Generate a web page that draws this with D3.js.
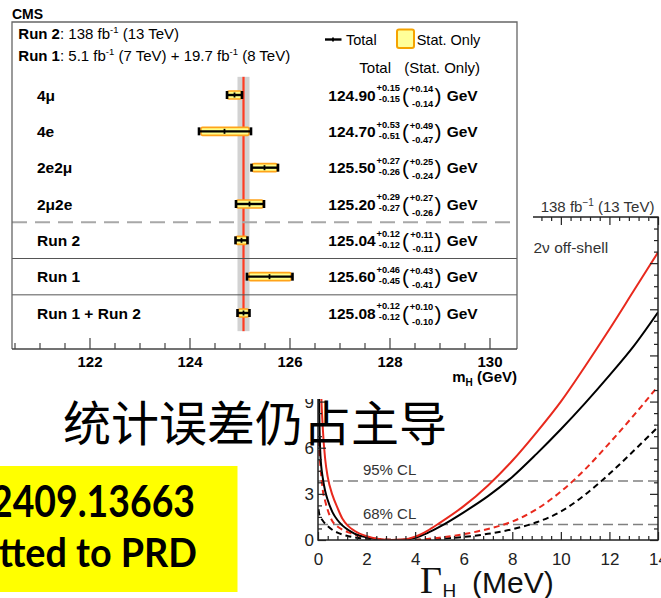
<!DOCTYPE html>
<html><head><meta charset="utf-8">
<script src="https://cdn.jsdelivr.net/npm/d3@7"></script>
<style>body{margin:0;background:#fff}svg{display:block}</style>
</head><body>
<svg id="c" width="661" height="598"></svg>
<script>
// ---------- Data: Higgs boson mass measurements (left panel) ----------
const categories = ["4μ", "4e", "2e2μ", "2μ2e", "Run 2", "Run 1", "Run 1 + Run 2"];
const massValues = [124.90, 124.70, 125.50, 125.20, 125.04, 125.60, 125.08];
const totalUp    = [0.15, 0.53, 0.27, 0.29, 0.12, 0.46, 0.12];
const totalDown  = [0.15, 0.51, 0.26, 0.27, 0.12, 0.45, 0.12];
const statUp     = [0.14, 0.49, 0.25, 0.27, 0.11, 0.43, 0.10];
const statDown   = [0.14, 0.47, 0.24, 0.26, 0.11, 0.41, 0.10];
const combinedMass = 125.08;
const combinedErr = 0.12;
const massTicks = [122, 124, 126, 128, 130];

// ---------- Data: Higgs width likelihood scan (right panel) ----------
const widthGrid   = [0.02, 0.05, 0.1, 0.2, 0.3, 0.4, 0.6, 0.8, 1.0, 1.25, 1.5, 2.0, 2.5, 3.0, 3.5, 4.0, 4.5, 5.0, 6.0, 7.0, 8.0, 9.0, 10.0, 11.0, 12.0, 13.0, 14.0];
const redSolid    = [24, 17, 11.5, 7.2, 5.2, 4.1, 2.9, 2.1, 1.4, 0.9, 0.6, 0.25, 0.07, 0.0, 0.03, 0.22, 0.6, 1.1, 2.2, 3.55, 5.15, 7.0, 9.0, 11.3, 13.7, 16.2, 18.7];
const blackSolid  = [14, 8.5, 5.5, 4.0, 3.15, 2.6, 1.8, 1.3, 0.95, 0.65, 0.42, 0.17, 0.04, 0.0, 0.02, 0.15, 0.45, 0.85, 1.8, 2.85, 4.1, 5.6, 7.2, 8.9, 10.7, 12.6, 14.8];
const redDashed   = [6.5, 5.8, 4.8, 3.2, 2.5, 1.95, 1.2, 0.88, 0.68, 0.5, 0.36, 0.18, 0.07, 0.02, 0.0, 0.02, 0.07, 0.15, 0.38, 0.72, 1.2, 2.0, 3.15, 4.6, 6.3, 8.1, 10.0];
const blackDashed = [2.0, 1.7, 1.5, 1.25, 1.05, 0.9, 0.65, 0.48, 0.36, 0.25, 0.17, 0.08, 0.03, 0.01, 0.0, 0.01, 0.04, 0.08, 0.2, 0.4, 0.7, 1.15, 1.85, 2.95, 4.3, 5.8, 7.35];
const widthTicks = [0, 2, 4, 6, 8, 10, 12, 14];
const nllTicks = [0, 3, 6, 9, 12, 15, 18, 21];
const clLevels = [1, 3.84];
const clLabels = ["68% CL", "95% CL"];

const SANS = "'Liberation Sans', Arial, Helvetica, sans-serif";
const svg = d3.select("#c");

function txt(p, x, y, s, o = {}) {
  const t = p.append("text").attr("x", x).attr("y", y)
    .attr("font-family", o.family || SANS)
    .attr("font-size", o.size || 15)
    .attr("font-weight", o.weight || "normal")
    .attr("fill", o.fill || "#000")
    .attr("text-anchor", o.anchor || "start");
  if (s !== null) t.text(s);
  if (o.len) t.attr("textLength", o.len).attr("lengthAdjust", "spacingAndGlyphs");
  return t;
}

// ================= Right panel: width scan =================
const xw = d3.scaleLinear().domain([0, 14]).range([318, 658]);
const yw = d3.scaleLinear().domain([0, 21]).range([540, 217]);
const gR = svg.append("g");
gR.append("clipPath").attr("id", "clipR").append("rect")
  .attr("x", xw(0)).attr("y", yw(21)).attr("width", xw(14) - xw(0)).attr("height", yw(0) - yw(21));

clLevels.forEach((lv, i) => {
  gR.append("line").attr("x1", xw(0)).attr("x2", xw(14)).attr("y1", yw(lv)).attr("y2", yw(lv))
    .attr("stroke", "#808080").attr("stroke-width", 1.5).attr("stroke-dasharray", "10,5");
  txt(gR, xw(1.85), yw(lv) - 5.5, clLabels[i], {size: 15, fill: "#333"});
});

const line = d3.line().x((d, i) => xw(widthGrid[i])).y(d => yw(d)).curve(d3.curveMonotoneX);
const curves = [
  {v: blackDashed, c: "#000", dash: "6,4"},
  {v: redDashed, c: "#e8291d", dash: "6,4"},
  {v: blackSolid, c: "#000", dash: null},
  {v: redSolid, c: "#e8291d", dash: null}
];
const gC = gR.append("g").attr("clip-path", "url(#clipR)");
curves.forEach(cv => {
  gC.append("path").attr("d", line(cv.v)).attr("fill", "none")
    .attr("stroke", cv.c).attr("stroke-width", 2)
    .attr("stroke-dasharray", cv.dash);
});

const wMinor = d3.range(0, 36).map(i => +(i * 0.4).toFixed(2)).filter(v => Math.abs(v / 2 - Math.round(v / 2)) > 1e-6);
const nMinor = d3.range(0, 29).map(i => i * 0.75).filter(v => Math.abs(v / 3 - Math.round(v / 3)) > 1e-6);
function styleAxis(g, fs) {
  g.select(".domain").remove();
  g.selectAll("line").attr("stroke", "#222").attr("stroke-width", 1.2);
  g.selectAll("text").attr("font-family", SANS).attr("font-size", fs).attr("fill", "#222");
}
gR.append("g").attr("transform", `translate(0,${yw(0)})`)
  .call(d3.axisBottom(xw).tickValues(widthTicks).tickSize(-8).tickPadding(13).tickFormat(d3.format("d")))
  .call(g => styleAxis(g, 17));
gR.append("g").attr("transform", `translate(0,${yw(0)})`)
  .call(d3.axisBottom(xw).tickValues(wMinor).tickSize(-4).tickFormat(""))
  .call(g => styleAxis(g, 17));
gR.append("g").attr("transform", `translate(0,${yw(21)})`)
  .call(d3.axisTop(xw).tickValues(widthTicks).tickSize(-8).tickFormat(""))
  .call(g => styleAxis(g, 17));
gR.append("g").attr("transform", `translate(0,${yw(21)})`)
  .call(d3.axisTop(xw).tickValues(wMinor).tickSize(-4).tickFormat(""))
  .call(g => styleAxis(g, 17));
gR.append("g").attr("transform", `translate(${xw(0)},0)`)
  .call(d3.axisLeft(yw).tickValues(nllTicks).tickSize(-8).tickPadding(4).tickFormat(d3.format("d")))
  .call(g => styleAxis(g, 17));
gR.append("g").attr("transform", `translate(${xw(0)},0)`)
  .call(d3.axisLeft(yw).tickValues(nMinor).tickSize(-4).tickFormat(""))
  .call(g => styleAxis(g, 17));
gR.append("g").attr("transform", `translate(${xw(14)},0)`)
  .call(d3.axisRight(yw).tickValues(nllTicks).tickSize(-8).tickFormat(""))
  .call(g => styleAxis(g, 17));
gR.append("g").attr("transform", `translate(${xw(14)},0)`)
  .call(d3.axisRight(yw).tickValues(nMinor).tickSize(-4).tickFormat(""))
  .call(g => styleAxis(g, 17));
gR.append("rect").attr("x", xw(0)).attr("y", yw(21)).attr("width", xw(14) - xw(0)).attr("height", yw(0) - yw(21))
  .attr("fill", "none").attr("stroke", "#222").attr("stroke-width", 1.5);

const lumi = txt(gR, 540.7, 211.7, null, {size: 15, fill: "#333"});
lumi.append("tspan").text("138 fb");
lumi.append("tspan").attr("dy", -6).attr("font-size", 10).text("−1");
lumi.append("tspan").attr("dy", 6).text(" (13 TeV)");
txt(gR, 533.5, 253.3, "2ν off-shell", {size: 15.5, fill: "#333"});
txt(gR, 420, 593, "Γ", {family: "'Liberation Serif', 'Times New Roman', serif", size: 38, fill: "#111"});
txt(gR, 442.5, 597, "H", {size: 19, fill: "#111"});
txt(gR, 472, 593, "(MeV)", {size: 30, fill: "#111"});

// ================= Cover (background of left figure) =================
svg.append("rect").attr("x", 0).attr("y", 0).attr("width", 533).attr("height", 399).attr("fill", "#fff");

// ================= Left panel: mass =================
const xm = d3.scaleLinear().domain([120.45, 130.55]).range([12, 517]);
const ym = d3.scalePoint().domain(categories).range([95, 313]);
const step = ym.step();
const gL = svg.append("g");
const yTop = ym(categories[0]) - step / 2, yBot = ym(categories[categories.length - 1]) + step / 2;

gL.append("rect").attr("x", xm(combinedMass - combinedErr)).attr("y", yTop)
  .attr("width", xm(combinedMass + combinedErr) - xm(combinedMass - combinedErr)).attr("height", yBot - yTop)
  .attr("fill", "#d2d2d2");
gL.append("line").attr("x1", xm(combinedMass)).attr("x2", xm(combinedMass)).attr("y1", yTop).attr("y2", yBot)
  .attr("stroke", "#ff3b22").attr("stroke-width", 2.2);

const sepY = i => (ym(categories[i]) + ym(categories[i + 1])) / 2;
gL.append("line").attr("x1", 12).attr("x2", 517).attr("y1", sepY(3)).attr("y2", sepY(3))
  .attr("stroke", "#a8a8a8").attr("stroke-width", 2).attr("stroke-dasharray", "15,8");
[4, 5].forEach(i => gL.append("line").attr("x1", 12).attr("x2", 517).attr("y1", sepY(i)).attr("y2", sepY(i))
  .attr("stroke", "#555").attr("stroke-width", 1));

categories.forEach((cat, i) => {
  const cy = ym(cat), m = massValues[i];
  const g = gL.append("g");
  g.append("rect").attr("x", xm(m - statDown[i])).attr("y", cy - 4)
    .attr("width", xm(m + statUp[i]) - xm(m - statDown[i])).attr("height", 8)
    .attr("fill", "#ffff8a").attr("stroke", "#ffa31a").attr("stroke-width", 1.6).attr("rx", 1.5);
  const x1 = xm(m - totalDown[i]), x2 = xm(m + totalUp[i]);
  g.append("line").attr("x1", x1).attr("x2", x2).attr("y1", cy).attr("y2", cy).attr("stroke", "#000").attr("stroke-width", 2.4);
  [x1, x2].forEach(x => g.append("line").attr("x1", x).attr("x2", x).attr("y1", cy - 4).attr("y2", cy + 4)
    .attr("stroke", "#000").attr("stroke-width", 2.6));
  g.append("line").attr("x1", xm(m)).attr("x2", xm(m)).attr("y1", cy - 2.5).attr("y2", cy + 2.5)
    .attr("stroke", "#000").attr("stroke-width", 1.8);

  txt(gL, 37, cy + 5.5, cat, {size: 15.5, weight: "bold"});
  const B = cy + 5.8;
  txt(gL, 328.3, B, m.toFixed(2), {size: 15.5, weight: "bold"});
  txt(gL, 400, B - 9.4, "+" + totalUp[i].toFixed(2), {size: 9.3, weight: "bold", anchor: "end"});
  txt(gL, 400, B + 1.6, "-" + totalDown[i].toFixed(2), {size: 9.3, weight: "bold", anchor: "end"});
  txt(gL, 402, B + 1.8, "(", {size: 21});
  txt(gL, 433.3, B - 8.4, "+" + statUp[i].toFixed(2), {size: 9.3, weight: "bold", anchor: "end"});
  txt(gL, 433.3, B + 6, "-" + statDown[i].toFixed(2), {size: 9.3, weight: "bold", anchor: "end"});
  txt(gL, 434.5, B + 1.8, ")", {size: 21});
  txt(gL, 446.7, B, "GeV", {size: 15.5, weight: "bold"});
});

const massMinor = d3.range(1, 21).map(i => 120 + i * 0.5).filter(v => v % 2 !== 0);
gL.append("g").attr("transform", "translate(0,349)")
  .call(d3.axisBottom(xm).tickValues(massTicks).tickSize(-11).tickPadding(7).tickFormat(d3.format("d")))
  .call(g => { g.select(".domain").remove(); g.selectAll("line").attr("stroke", "#444").attr("stroke-width", 1.2);
    g.selectAll("text").attr("font-family", SANS).attr("font-size", 15).attr("font-weight", "bold").attr("fill", "#000"); });
gL.append("g").attr("transform", "translate(0,349)")
  .call(d3.axisBottom(xm).tickValues(massMinor).tickSize(-6).tickFormat(""))
  .call(g => { g.select(".domain").remove(); g.selectAll("line").attr("stroke", "#444").attr("stroke-width", 1.2); });
gL.append("path").attr("d", "M12,349V22H517V349").attr("fill", "none").attr("stroke", "#666").attr("stroke-width", 1.3);
gL.append("line").attr("x1", 12).attr("x2", 517).attr("y1", 349).attr("y2", 349).attr("stroke", "#444").attr("stroke-width", 1.6);

const mlab = txt(gL, 517, 381.7, null, {size: 15, weight: "bold", anchor: "end"});
mlab.append("tspan").text("m");
mlab.append("tspan").attr("dy", 4).attr("font-size", 10).text("H");
mlab.append("tspan").attr("dy", -4).text(" (GeV)");

txt(gL, 12, 18.5, "CMS", {size: 14, weight: "bold"});
const h1 = txt(gL, 18.3, 39, null, {size: 15});
h1.append("tspan").attr("font-weight", "bold").text("Run 2");
h1.append("tspan").text(": 138 fb");
h1.append("tspan").attr("dy", -6).attr("font-size", 9.5).text("-1");
h1.append("tspan").attr("dy", 6).text(" (13 TeV)");
const h2 = txt(gL, 18.3, 61, null, {size: 15});
h2.append("tspan").attr("font-weight", "bold").text("Run 1");
h2.append("tspan").text(": 5.1 fb");
h2.append("tspan").attr("dy", -6).attr("font-size", 9.5).text("-1");
h2.append("tspan").attr("dy", 6).text(" (7 TeV) + 19.7 fb");
h2.append("tspan").attr("dy", -6).attr("font-size", 9.5).text("-1");
h2.append("tspan").attr("dy", 6).text(" (8 TeV)");

gL.append("line").attr("x1", 325).attr("x2", 341.5).attr("y1", 39.5).attr("y2", 39.5).attr("stroke", "#000").attr("stroke-width", 2.4);
gL.append("line").attr("x1", 333).attr("x2", 333).attr("y1", 37.5).attr("y2", 41.5).attr("stroke", "#000").attr("stroke-width", 1.8);
txt(gL, 346, 44.7, "Total", {size: 14.5});
gL.append("rect").attr("x", 397).attr("y", 29.5).attr("width", 17).attr("height", 18.5)
  .attr("fill", "#ffff99").attr("stroke", "#f5a300").attr("stroke-width", 2).attr("rx", 2);
txt(gL, 416.7, 44.7, "Stat. Only", {size: 14.5});
txt(gL, 359.3, 72.7, "Total", {size: 15});
txt(gL, 480, 72.7, "(Stat. Only)", {size: 15, anchor: "end"});

// ================= Overlay texts =================
txt(svg, 63, 441, "统计误差仍占主导", {family: "'Noto Sans CJK SC', sans-serif", size: 48});

svg.append("rect").attr("x", 0).attr("y", 466).attr("width", 237.5).attr("height", 126).attr("fill", "#ffff00");
txt(svg, -9, 516.7, "2409.13663", {family: "Lato, 'Open Sans', sans-serif", size: 44, weight: "bold", len: 204});
txt(svg, -1, 566.7, "tted to PRD", {family: "Lato, 'Open Sans', sans-serif", size: 41, weight: "bold", len: 198});
</script>
</body></html>
